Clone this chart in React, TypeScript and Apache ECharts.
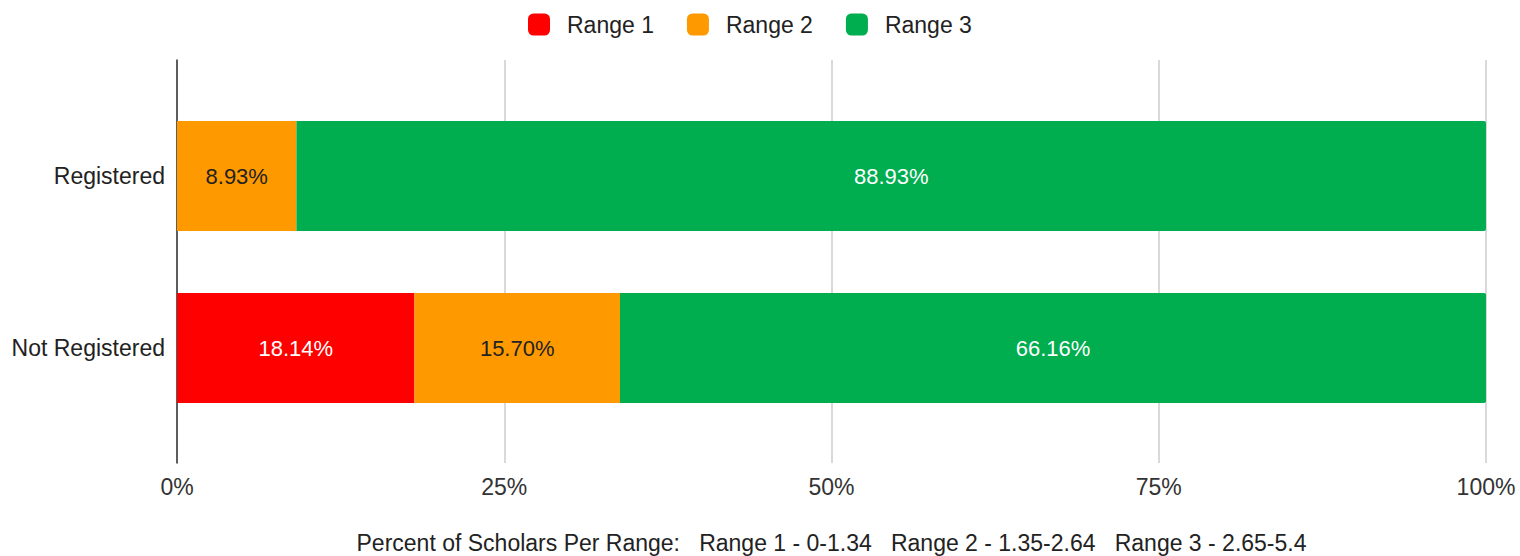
import React, { useEffect, useRef } from "react";
import * as echarts from "echarts";

// Rows of the chart, top to bottom
const categories = ["Registered", "Not Registered"];
const seriesNames = ["Range 1", "Range 2", "Range 3"];
// Percent of scholars in each score range, per row
const range1 = [0, 18.14];
const range2 = [8.93, 15.7];
const range3 = [88.93, 66.16];
const xTicks = [0, 25, 50, 75, 100];
const footnote =
  "Percent of Scholars Per Range:   Range 1 - 0-1.34   Range 2 - 1.35-2.64   Range 3 - 2.65-5.4";

const colors = ["#ff0000", "#ff9900", "#00ad4f"];
const labelColors = ["#ffffff", "#222222", "#ffffff"];
const FONT = "'Liberation Sans', Arial, sans-serif";
const TEXT = "#222222";
const SIZE = 23;

export default function App() {
  const ref = useRef<HTMLDivElement>(null);

  useEffect(() => {
    if (!ref.current) return;
    const chart = echarts.init(ref.current, undefined, { renderer: "svg" });

    const rows = [range1, range2, range3];
    // each row is drawn as a 100% stacked bar
    const totals = categories.map((_, i) => rows.reduce((s, r) => s + r[i], 0));

    const left = 177;
    const right = 34;

    const series = rows.map((vals, k) => ({
      name: seriesNames[k],
      type: "bar",
      stack: "total",
      xAxisIndex: 1,
      yAxisIndex: 1,
      barWidth: 110,
      itemStyle: {
        color: colors[k],
        borderRadius: k === rows.length - 1 ? [0, 2, 2, 0] : 0,
      },
      label: {
        show: true,
        position: "inside",
        color: labelColors[k],
        fontFamily: FONT,
        fontSize: 22,
        formatter: (p: any) => (vals[p.dataIndex] > 0 ? vals[p.dataIndex].toFixed(2) + "%" : ""),
      },
      data: vals.map((v, i) => (v / totals[i]) * 100),
    }));

    chart.setOption({
      animation: false,
      backgroundColor: "#ffffff",
      legend: {
        data: seriesNames,
        top: 8,
        left: 523,
        icon: "roundRect",
        itemWidth: 22,
        itemHeight: 22,
        itemGap: 33,
        textStyle: { fontFamily: FONT, fontSize: SIZE, color: TEXT, padding: [0, 0, 0, 12] },
      },
      grid: [
        { left, right, top: 60, height: 403 },
        { left, right, top: 90, height: 344 },
      ],
      xAxis: [
        {
          gridIndex: 0,
          type: "value",
          min: 0,
          max: 100,
          interval: 25,
          axisLine: { show: false },
          axisTick: { show: false },
          splitLine: { show: true, lineStyle: { color: "#cccccc", width: 1.5 } },
          axisLabel: {
            margin: 12,
            fontFamily: FONT,
            fontSize: SIZE,
            color: "#333333",
            formatter: (v: number) => (xTicks.includes(v) ? v + "%" : ""),
          },
        },
        {
          gridIndex: 1,
          type: "value",
          min: 0,
          max: 100,
          show: false,
        },
      ],
      yAxis: [
        {
          gridIndex: 0,
          type: "category",
          data: [""],
          axisLine: { show: true, lineStyle: { color: "#333333", width: 1.5 } },
          axisTick: { show: false },
          axisLabel: { show: false },
          splitLine: { show: false },
        },
        {
          gridIndex: 1,
          type: "category",
          inverse: true,
          data: categories,
          axisLine: { show: false },
          axisTick: { show: false },
          axisLabel: {
            margin: 12,
            fontFamily: FONT,
            fontSize: SIZE,
            color: TEXT,
          },
        },
      ],
      graphic: [
        {
          type: "text",
          x: left + (1520 - left - right) / 2,
          y: 543,
          style: {
            text: footnote,
            fontFamily: FONT,
            fontSize: SIZE,
            fill: TEXT,
            textAlign: "center",
            textVerticalAlign: "middle",
          },
        },
      ],
      series,
    });

    return () => chart.dispose();
  }, []);

  return <div ref={ref} style={{ width: 1520, height: 556, position: "absolute", left: 0, top: 0 }} />;
}
